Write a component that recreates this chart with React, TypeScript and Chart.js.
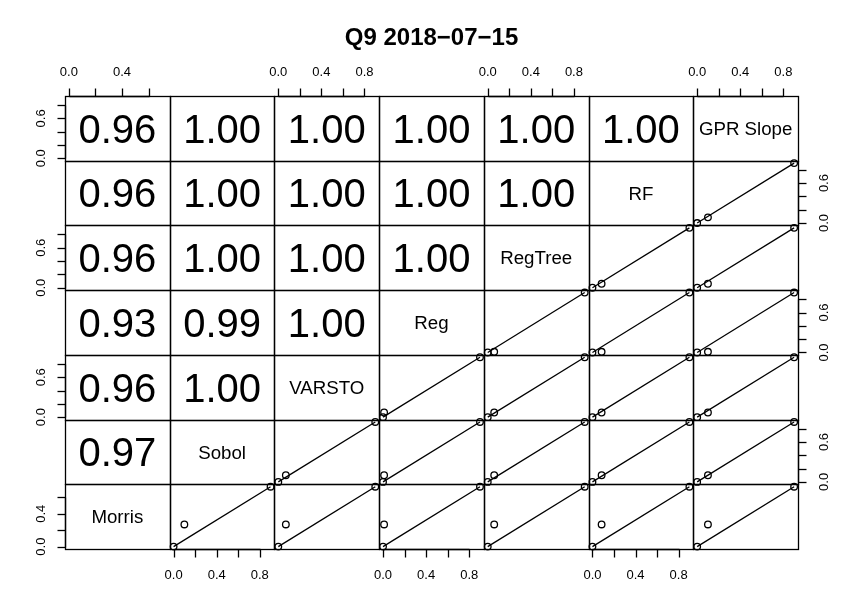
import React, { useEffect, useRef } from 'react';
import { Chart, registerables } from 'chart.js';

Chart.register(...registerables);

// ---------- data ----------
const chartTitle = 'Q9 2018−07−15';
const variables = ['Morris', 'Sobol', 'VARSTO', 'Reg', 'RegTree', 'RF', 'GPR Slope'];

const morris = [0, 0.27, 0.73];
const sobol = [0, 0.1, 0.9];
const varsto = [0, 0.07, 0.9];
const reg = [0, 0.01, 0.9];
const regTree = [0, 0.06, 0.9];
const rf = [0, 0.085, 0.9];
const gprSlope = [0, 0.1, 0.9];
const series = [morris, sobol, varsto, reg, regTree, rf, gprSlope];

// correlation labels: row = y variable, entries for x variables to its left
const corSobol = ['0.97'];
const corVarsto = ['0.96', '1.00'];
const corReg = ['0.93', '0.99', '1.00'];
const corRegTree = ['0.96', '1.00', '1.00', '1.00'];
const corRF = ['0.96', '1.00', '1.00', '1.00', '1.00'];
const corGpr = ['0.96', '1.00', '1.00', '1.00', '1.00', '1.00'];
const corLabels: string[][] = [[], corSobol, corVarsto, corReg, corRegTree, corRF, corGpr];

// tick values
const morrisTicks = [0, 0.2, 0.4, 0.6];
const morrisXLabels = [0, 0.4];
const morrisYLabels = [0, 0.4];
const unitTicks = [0, 0.2, 0.4, 0.6, 0.8];
const unitXLabels = [0, 0.4, 0.8];
const unitYLabels = [0, 0.6];

// which variable gets an axis on which side
const topAxisVars = [0, 2, 4, 6];
const bottomAxisVars = [1, 3, 5];
const leftAxisVars = [6, 4, 2, 0];
const rightAxisVars = [5, 3, 1];

const FONT = '"Liberation Sans", Arial, Helvetica, sans-serif';
const LW = 1.3;

function padRange(arr: number[]) {
  const mn = Math.min(...arr);
  const mx = Math.max(...arr);
  const r = mx - mn;
  return { min: mn - 0.04 * r, max: mx + 0.04 * r };
}

function ticksFor(v: number) {
  return v === 0 ? morrisTicks : unitTicks;
}
function xLabelsFor(v: number) {
  return v === 0 ? morrisXLabels : unitXLabels;
}
function yLabelsFor(v: number) {
  return v === 0 ? morrisYLabels : unitYLabels;
}

const decorPlugin = {
  id: 'pairsDecor',
  afterDatasetsDraw(chart: any) {
    const ctx: CanvasRenderingContext2D = chart.ctx;
    const n = variables.length;
    const X = (j: number) => chart.scales['x' + j];
    const Y = (i: number) => chart.scales['y' + i];
    const area = chart.chartArea;
    ctx.save();
    ctx.strokeStyle = '#000';
    ctx.fillStyle = '#000';
    ctx.lineWidth = LW;

    // panel borders
    for (let i = 0; i < n; i++) {
      for (let j = 0; j < n; j++) {
        const xs = X(j);
        const ys = Y(i);
        const l = Math.round(xs.left);
        const r = Math.round(xs.right);
        const t = Math.round(ys.top);
        const b = Math.round(ys.bottom);
        ctx.strokeRect(l + 0.5, t + 0.5, r - l, b - t);
      }
    }

    // texts in panels
    ctx.textAlign = 'center';
    ctx.textBaseline = 'alphabetic';
    for (let i = 0; i < n; i++) {
      for (let j = 0; j < n; j++) {
        const xs = X(j);
        const ys = Y(i);
        const cx = (xs.left + xs.right) / 2;
        const cy = (ys.top + ys.bottom) / 2;
        if (i === j) {
          const fs = 18.7;
          ctx.font = `${fs}px ${FONT}`;
          ctx.fillText(variables[i], cx, cy + 0.358 * fs);
        } else if (j < i) {
          const fs = 40;
          ctx.font = `${fs}px ${FONT}`;
          ctx.fillText(corLabels[i][j], cx, cy + 0.358 * fs);
        }
      }
    }

    const tickLen = 8;
    const labGap = 25;
    const tfs = 13;
    ctx.font = `${tfs}px ${FONT}`;

    const line = (x1: number, y1: number, x2: number, y2: number) => {
      ctx.beginPath();
      ctx.moveTo(x1, y1);
      ctx.lineTo(x2, y2);
      ctx.stroke();
    };

    // top axes
    const topY = Math.round(area.top) + 0.5;
    for (const v of topAxisVars) {
      const xs = X(v);
      const ticks = ticksFor(v);
      const px = ticks.map((t) => Math.round(xs.getPixelForValue(t)) + 0.5);
      line(px[0], topY, px[px.length - 1], topY);
      px.forEach((p) => line(p, topY, p, topY - tickLen));
      for (const t of xLabelsFor(v)) {
        ctx.fillText(t.toFixed(1), xs.getPixelForValue(t), topY - labGap + 0.358 * tfs);
      }
    }
    // bottom axes
    const botY = Math.round(area.bottom) + 0.5;
    for (const v of bottomAxisVars) {
      const xs = X(v);
      const ticks = ticksFor(v);
      const px = ticks.map((t) => Math.round(xs.getPixelForValue(t)) + 0.5);
      line(px[0], botY, px[px.length - 1], botY);
      px.forEach((p) => line(p, botY, p, botY + tickLen));
      for (const t of xLabelsFor(v)) {
        ctx.fillText(t.toFixed(1), xs.getPixelForValue(t), botY + labGap + 0.358 * tfs);
      }
    }
    // left axes
    const leftX = Math.round(area.left) + 0.5;
    for (const v of leftAxisVars) {
      const ys = Y(v);
      const ticks = ticksFor(v);
      const py = ticks.map((t) => Math.round(ys.getPixelForValue(t)) + 0.5);
      line(leftX, py[0], leftX, py[py.length - 1]);
      py.forEach((p) => line(leftX, p, leftX - tickLen, p));
      for (const t of yLabelsFor(v)) {
        ctx.save();
        ctx.translate(leftX - labGap, ys.getPixelForValue(t));
        ctx.rotate(-Math.PI / 2);
        ctx.fillText(t.toFixed(1), 0, 0.358 * tfs);
        ctx.restore();
      }
    }
    // right axes
    const rightX = Math.round(area.right) + 0.5;
    for (const v of rightAxisVars) {
      const ys = Y(v);
      const ticks = ticksFor(v);
      const py = ticks.map((t) => Math.round(ys.getPixelForValue(t)) + 0.5);
      line(rightX, py[0], rightX, py[py.length - 1]);
      py.forEach((p) => line(rightX, p, rightX + tickLen, p));
      for (const t of yLabelsFor(v)) {
        ctx.save();
        ctx.translate(rightX + labGap, ys.getPixelForValue(t));
        ctx.rotate(-Math.PI / 2);
        ctx.fillText(t.toFixed(1), 0, 0.358 * tfs);
        ctx.restore();
      }
    }

    // title
    ctx.font = `bold 24px ${FONT}`;
    ctx.fillText(chartTitle, (area.left + area.right) / 2, 45);

    ctx.restore();
  },
};

export default function App() {
  const canvasRef = useRef<HTMLCanvasElement | null>(null);

  useEffect(() => {
    const n = variables.length;
    const scales: any = {};
    for (let j = 0; j < n; j++) {
      const r = padRange(series[j]);
      scales['x' + j] = {
        type: 'linear', display: false, position: 'bottom', stack: 'cols', stackWeight: 1,
        min: r.min, max: r.max,
      };
    }
    // left-side boxes are laid out bottom-up, so Morris (index 0) ends at the bottom
    for (let i = 0; i < n; i++) {
      const r = padRange(series[i]);
      scales['y' + i] = {
        type: 'linear', display: false, position: 'left', stack: 'rows', stackWeight: 1,
        min: r.min, max: r.max,
      };
    }

    const datasets: any[] = [];
    for (let i = 0; i < n; i++) {
      for (let j = i + 1; j < n; j++) {
        const xv = series[j];
        const yv = series[i];
        const pts = xv.map((x, k) => ({ x, y: yv[k] }));
        datasets.push({
          type: 'scatter',
          data: pts,
          xAxisID: 'x' + j,
          yAxisID: 'y' + i,
          pointStyle: 'circle',
          pointRadius: 3.3,
          pointBorderWidth: LW,
          borderColor: '#000',
          pointBorderColor: '#000',
          backgroundColor: 'rgba(0,0,0,0)',
          pointBackgroundColor: 'rgba(0,0,0,0)',
          showLine: false,
          clip: false,
        });
        const sorted = [...pts].sort((a, b) => a.x - b.x);
        datasets.push({
          type: 'scatter',
          data: [sorted[0], sorted[sorted.length - 1]],
          xAxisID: 'x' + j,
          yAxisID: 'y' + i,
          showLine: true,
          pointRadius: 0,
          borderColor: '#000',
          borderWidth: LW,
          backgroundColor: 'rgba(0,0,0,0)',
          clip: false,
        });
      }
    }

    const chart = new Chart(canvasRef.current as HTMLCanvasElement, {
      type: 'scatter',
      data: { datasets },
      options: {
        responsive: false,
        animation: false,
        events: [],
        layout: { padding: { left: 65, right: 66, top: 96, bottom: 66 } },
        plugins: {
          legend: { display: false },
          tooltip: { enabled: false },
          title: { display: false },
        },
        scales,
      } as any,
      plugins: [decorPlugin],
    });
    return () => chart.destroy();
  }, []);

  return (
    <div style={{ position: 'fixed', left: 0, top: 0, width: 864, height: 615, background: '#fff' }}>
      <canvas ref={canvasRef} width={864} height={615} />
    </div>
  );
}
